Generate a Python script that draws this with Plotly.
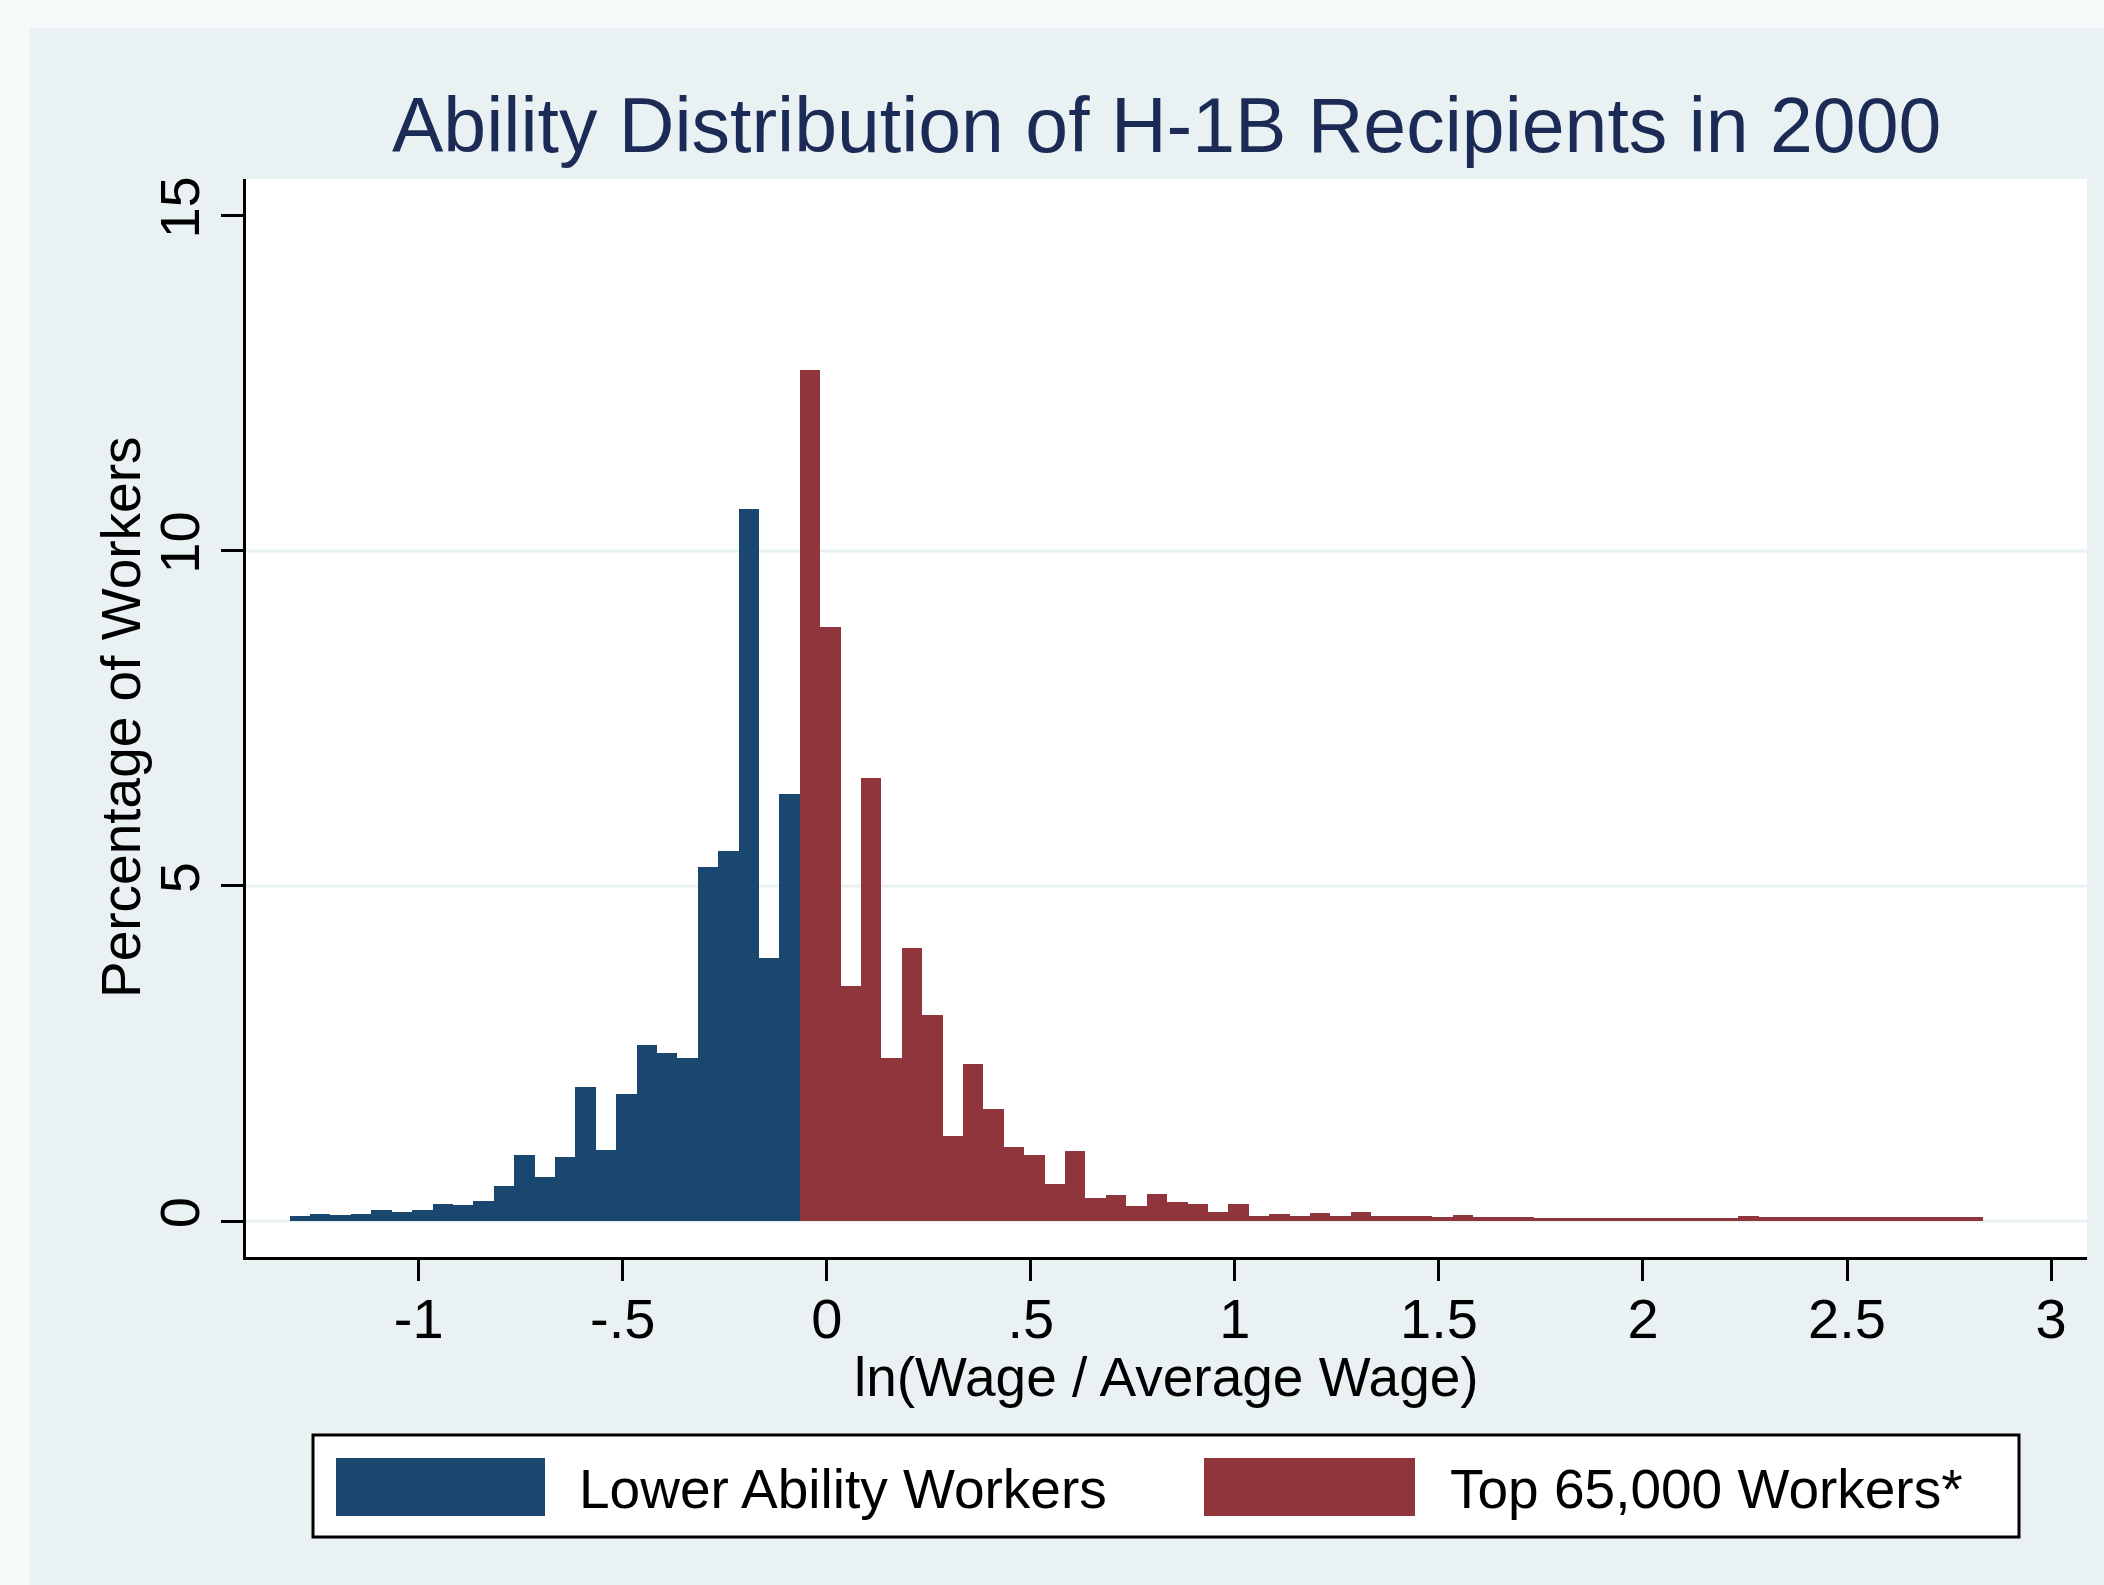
import plotly.graph_objects as go

# ---------------- data ----------------
bin_start = -1.316
bin_width = 0.05

lower_ability = [0.07, 0.10, 0.09, 0.11, 0.16, 0.14, 0.17, 0.26, 0.24, 0.30,
                 0.52, 0.99, 0.66, 0.95, 2.00, 1.06, 1.89, 2.62, 2.50, 2.43,
                 5.29, 5.52, 10.63, 3.93, 6.37]

top_65000 = [12.70, 8.86, 3.51, 6.61, 2.44, 4.08, 3.08, 1.27, 2.35, 1.67,
             1.11, 0.99, 0.55, 1.04, 0.34, 0.39, 0.22, 0.41, 0.28, 0.26,
             0.13, 0.26, 0.07, 0.11, 0.07, 0.12, 0.08, 0.13, 0.07, 0.07,
             0.07, 0.065, 0.09, 0.06, 0.06, 0.065, 0.05, 0.05, 0.05, 0.05,
             0.05, 0.05, 0.05, 0.05, 0.05, 0.05, 0.08, 0.055, 0.055, 0.055,
             0.055, 0.055, 0.055, 0.055, 0.055, 0.055, 0.055, 0.055]

x_tickvals = [-1, -0.5, 0, 0.5, 1, 1.5, 2, 2.5, 3]
x_ticktext = ["-1", "-.5", "0", ".5", "1", "1.5", "2", "2.5", "3"]
y_tickvals = [0, 5, 10, 15]
y_ticktext = ["0", "5", "10", "15"]
y_gridvals = [0, 5, 10]

series_names = ["Lower Ability Workers", "Top 65,000 Workers*"]
title_text = "Ability Distribution of H-1B Recipients in 2000"
x_title = "ln(Wage / Average Wage)"
y_title = "Percentage of Workers"

# ---------------- styling ----------------
W, H = 2104, 1585
L, R, T, B = 246, 2087, 179, 1257          # plot area in pixels
PW, PH = R - L, B - T
x_range = [-1.423, 3.088]
y_range = [-0.537, 15.55]

BLUE = "#1a476f"
RED = "#90353b"
OUTER = "#f5f9fa"
INNER = "#e9f1f3"
FONT = "Liberation Sans, Arial, sans-serif"


def px_x(p):
    return (p - L) / PW


def px_y(p):
    return (B - p) / PH


n_low = len(lower_ability)
x_low = [bin_start + bin_width * (i + 0.5) for i in range(n_low)]
x_top = [bin_start + bin_width * (n_low + i + 0.5) for i in range(len(top_65000))]

fig = go.Figure()
fig.add_trace(go.Bar(x=x_low, y=lower_ability, width=bin_width, name=series_names[0],
                     marker=dict(color=BLUE, line=dict(width=0)), showlegend=False))
fig.add_trace(go.Bar(x=x_top, y=top_65000, width=bin_width, name=series_names[1],
                     marker=dict(color=RED, line=dict(width=0)), showlegend=False))

shapes = []
# gridlines (axis referenced -> drawn above plot bg, below bars)
for g in y_gridvals:
    shapes.append(dict(type="line", xref="x", yref="y", x0=x_range[0], x1=x_range[1],
                       y0=g, y1=g, line=dict(color=INNER, width=3), layer="below"))
# lighter outer border strips
shapes.append(dict(type="rect", xref="paper", yref="paper",
                   x0=px_x(0), x1=px_x(W), y0=px_y(28), y1=px_y(0),
                   fillcolor=OUTER, line=dict(width=0), layer="above"))
shapes.append(dict(type="rect", xref="paper", yref="paper",
                   x0=px_x(0), x1=px_x(30), y0=px_y(H), y1=px_y(0),
                   fillcolor=OUTER, line=dict(width=0), layer="above"))
# legend box
shapes.append(dict(type="rect", xref="paper", yref="paper",
                   x0=px_x(313), x1=px_x(2019), y0=px_y(1537), y1=px_y(1435),
                   fillcolor="white", line=dict(color="black", width=3), layer="above"))
shapes.append(dict(type="rect", xref="paper", yref="paper",
                   x0=px_x(336), x1=px_x(545), y0=px_y(1516), y1=px_y(1458),
                   fillcolor=BLUE, line=dict(width=0), layer="above"))
shapes.append(dict(type="rect", xref="paper", yref="paper",
                   x0=px_x(1204), x1=px_x(1415), y0=px_y(1516), y1=px_y(1458),
                   fillcolor=RED, line=dict(width=0), layer="above"))

annotations = [
    dict(text=title_text, xref="paper", yref="paper", x=px_x(1166), y=px_y(125),
         xanchor="center", yanchor="middle", showarrow=False,
         font=dict(family=FONT, size=77, color="#1c2b55")),
    dict(text=x_title, xref="paper", yref="paper", x=px_x(1166), y=px_y(1377),
         xanchor="center", yanchor="middle", showarrow=False,
         font=dict(family=FONT, size=55, color="black")),
    dict(text=y_title, xref="paper", yref="paper", x=px_x(121), y=px_y(718),
         xanchor="center", yanchor="middle", showarrow=False, textangle=-90,
         font=dict(family=FONT, size=55, color="black")),
    dict(text=series_names[0], xref="paper", yref="paper", x=px_x(577), y=px_y(1489),
         xanchor="left", yanchor="middle", showarrow=False,
         font=dict(family=FONT, size=55, color="black")),
    dict(text=series_names[1], xref="paper", yref="paper", x=px_x(1448), y=px_y(1489),
         xanchor="left", yanchor="middle", showarrow=False,
         font=dict(family=FONT, size=55, color="black")),
]

fig.update_layout(
    width=W, height=H,
    margin=dict(l=L, r=W - R, t=T, b=H - B, pad=0),
    paper_bgcolor=INNER, plot_bgcolor="white",
    bargap=0, barmode="overlay",
    showlegend=False,
    font=dict(family=FONT, color="black"),
    shapes=shapes, annotations=annotations,
    xaxis=dict(range=x_range, tickvals=x_tickvals, ticktext=x_ticktext,
               showgrid=False, zeroline=False, showline=True, linecolor="black",
               linewidth=3, ticks="outside", ticklen=21, tickwidth=2.5,
               ticklabelstandoff=-10,
               tickcolor="black", tickfont=dict(family=FONT, size=56, color="black")),
    yaxis=dict(range=y_range, tickvals=y_tickvals, ticktext=y_ticktext,
               showgrid=False, zeroline=False, showline=True, linecolor="black",
               linewidth=3, ticks="outside", ticklen=22, tickwidth=2.5,
               tickcolor="black", tickangle=-90,
               tickfont=dict(family=FONT, size=56, color="black")),
)

fig.write_html("out.html", config={"displayModeBar": False},
               post_script="document.body.style.margin='0';document.body.style.overflow='hidden';")
